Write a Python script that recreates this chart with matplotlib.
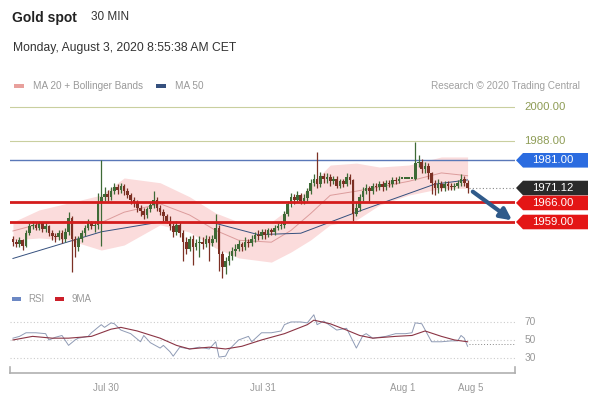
import matplotlib.pyplot as plt
import matplotlib.transforms as mtransforms
from matplotlib.patches import Polygon, Rectangle
import numpy as np

plt.rcParams['font.family'] = ['Liberation Sans', 'DejaVu Sans']

# 30 min candles, Jul 29 - Aug 3
first_open = 1953.0
closes = [1952.0, 1951.0, 1952.5, 1950.5, 1955.0, 1957.5, 1958.0, 1957.0, 1958.5, 1956.5,
          1957.5, 1955.0, 1954.0, 1953.5, 1955.0, 1953.0, 1955.5, 1960.5, 1953.0, 1950.0,
          1953.0, 1955.0, 1957.0, 1958.5, 1957.5, 1958.0, 1966.0, 1968.0, 1969.0, 1968.0,
          1970.0, 1971.5, 1970.5, 1972.0, 1970.0, 1968.5, 1967.0, 1966.0, 1964.0, 1963.0,
          1961.5, 1963.5, 1965.0, 1967.0, 1964.0, 1962.5, 1961.0, 1959.5, 1957.5, 1955.5,
          1958.0, 1955.0, 1952.0, 1949.5, 1953.0, 1950.0, 1951.5, 1952.0, 1951.0, 1953.0,
          1951.5, 1953.0, 1957.0, 1947.5, 1943.0, 1945.0, 1947.0, 1948.5, 1949.5, 1951.0,
          1950.0, 1952.0, 1951.5, 1953.0, 1954.5, 1954.0, 1955.5, 1954.5, 1956.0, 1955.5,
          1957.0, 1957.5, 1958.0, 1962.0, 1965.5, 1968.0, 1967.0, 1968.5, 1966.5, 1967.5,
          1970.0, 1973.0, 1974.5, 1972.5, 1975.5, 1974.5, 1975.0, 1973.5, 1974.5, 1972.0,
          1973.5, 1972.5, 1975.0, 1974.0, 1962.0, 1964.0, 1968.0, 1970.0, 1971.0, 1970.0,
          1972.0, 1971.5, 1972.5, 1971.5, 1973.0, 1972.5, 1974.0, 1973.5, 1974.5, 1974.5,
          1974.5, 1974.5, 1974.5, 1980.0, 1980.5, 1978.0, 1979.0, 1976.5, 1973.0, 1971.0,
          1972.5, 1971.0, 1972.5, 1972.0, 1971.5, 1972.0, 1973.0, 1974.5, 1973.0, 1971.12]
highs = [1954.0, 1953.0, 1953.5, 1953.0, 1956.0, 1958.5, 1959.5, 1959.0, 1959.5, 1959.0,
         1958.5, 1958.0, 1956.0, 1955.0, 1956.0, 1956.0, 1957.0, 1962.5, 1961.0, 1954.0,
         1954.0, 1956.0, 1958.0, 1960.0, 1959.5, 1959.5, 1969.5, 1981.0, 1971.5, 1970.5,
         1971.5, 1973.0, 1972.5, 1973.0, 1972.5, 1971.0, 1969.5, 1968.0, 1967.0, 1965.0,
         1964.0, 1964.5, 1966.0, 1970.0, 1968.0, 1965.0, 1963.5, 1962.0, 1961.0, 1958.5,
         1959.5, 1959.0, 1956.0, 1953.5, 1954.0, 1954.5, 1953.0, 1954.0, 1953.5, 1954.5,
         1954.0, 1954.5, 1962.0, 1958.0, 1948.5, 1946.5, 1948.5, 1950.0, 1951.0, 1952.5,
         1952.0, 1953.5, 1953.0, 1954.5, 1955.5, 1956.0, 1956.5, 1956.5, 1957.0, 1957.0,
         1958.0, 1958.5, 1959.5, 1963.0, 1966.5, 1969.5, 1969.0, 1970.0, 1969.5, 1969.0,
         1971.0, 1974.5, 1976.0, 1984.0, 1977.0, 1976.5, 1976.5, 1976.0, 1975.5, 1975.5,
         1974.5, 1974.5, 1976.5, 1976.0, 1974.5, 1966.0, 1969.0, 1971.5, 1972.5, 1972.0,
         1973.0, 1973.0, 1973.5, 1973.5, 1974.0, 1974.0, 1975.0, 1975.0, 1975.5, 1974.5,
         1974.5, 1974.5, 1974.5, 1987.5, 1983.0, 1981.5, 1980.5, 1980.0, 1977.0, 1974.0,
         1974.5, 1973.5, 1973.5, 1973.5, 1973.0, 1973.0, 1974.0, 1976.0, 1975.5, 1974.0]
lows = [1950.5, 1950.0, 1950.0, 1949.0, 1950.0, 1954.5, 1956.5, 1956.0, 1956.0, 1955.5,
        1955.5, 1954.0, 1952.5, 1952.0, 1952.5, 1951.5, 1952.0, 1954.5, 1941.0, 1946.5,
        1948.5, 1952.0, 1954.0, 1956.0, 1956.5, 1955.5, 1956.5, 1950.5, 1966.5, 1966.5,
        1967.0, 1969.0, 1969.0, 1969.5, 1968.5, 1967.5, 1965.5, 1964.5, 1962.5, 1961.0,
        1960.0, 1960.5, 1962.5, 1964.0, 1963.0, 1961.5, 1959.5, 1958.5, 1956.0, 1953.5,
        1954.5, 1953.5, 1945.0, 1947.5, 1948.5, 1943.5, 1949.0, 1946.5, 1949.5, 1950.0,
        1945.0, 1950.5, 1952.0, 1941.5, 1939.0, 1940.5, 1943.5, 1945.5, 1947.0, 1948.5,
        1948.5, 1949.0, 1950.0, 1950.5, 1952.0, 1952.5, 1953.0, 1953.0, 1953.5, 1954.5,
        1954.5, 1956.0, 1956.5, 1957.0, 1961.0, 1964.5, 1965.5, 1966.0, 1965.5, 1965.5,
        1966.5, 1969.0, 1972.0, 1971.0, 1971.5, 1973.0, 1973.0, 1972.0, 1972.5, 1971.0,
        1971.0, 1971.5, 1972.0, 1972.5, 1959.5, 1961.0, 1963.0, 1966.5, 1969.0, 1966.5,
        1969.0, 1970.0, 1970.5, 1970.0, 1970.5, 1971.5, 1971.5, 1972.5, 1973.0, 1974.5,
        1974.5, 1974.5, 1974.5, 1974.0, 1978.5, 1976.5, 1976.5, 1974.5, 1969.0, 1968.5,
        1969.5, 1970.0, 1970.0, 1970.5, 1970.5, 1970.5, 1971.0, 1972.0, 1972.0, 1969.5]

# indicator readings (candle index, value)
band_x = [0, 8, 17, 27, 34, 45, 54, 62, 69, 79, 85, 91, 97, 105, 112, 121, 131, 139]
band_upper = [1959.0, 1963.3, 1965.8, 1968.6, 1974.7, 1973.0, 1968.0, 1962.2, 1959.0, 1959.0,
              1964.3, 1972.2, 1979.3, 1980.0, 1978.6, 1979.3, 1982.2, 1982.2]
band_lower = [1952.6, 1953.3, 1952.6, 1949.0, 1950.8, 1958.0, 1955.4, 1949.7, 1946.2, 1944.7,
              1948.3, 1952.6, 1958.0, 1959.7, 1965.0, 1968.6, 1971.0, 1971.0]
ma20 = [1955.8, 1958.3, 1959.2, 1958.8, 1962.5, 1965.5, 1961.5, 1956.0, 1952.5, 1951.8,
        1956.0, 1962.0, 1968.5, 1970.0, 1971.5, 1973.5, 1976.5, 1975.5]
ma50_x = [0, 27, 45, 62, 75, 88, 105, 129, 139]
ma50 = [1946.0, 1955.5, 1959.0, 1958.5, 1954.5, 1955.0, 1962.5, 1972.5, 1974.0]

rsi_x = [0, 2, 4, 7, 10, 11, 13, 15, 17, 19, 20, 23, 24, 27, 28, 30, 31, 33, 36, 39, 40, 42,
         45, 46, 48, 49, 51, 54, 57, 60, 62, 63, 65, 66, 69, 72, 73, 76, 79, 82, 83, 85, 88,
         90, 92, 93, 95, 97, 99, 102, 105, 107, 108, 110, 114, 117, 120, 122, 123, 125, 128,
         131, 134, 136, 137, 138, 139]
rsi = [52, 54, 58, 58, 57, 50, 53, 55, 44, 50, 52, 54, 58, 67, 64, 69, 68, 61, 57, 48, 55, 47,
       41, 44, 37, 32, 42, 40, 42, 40, 48, 31, 32, 39, 50, 54, 48, 58, 58, 60, 67, 70, 70,
       69, 78, 67, 71, 66, 61, 63, 41, 55, 57, 52, 54, 57, 57, 58, 69, 68, 48,
       48, 49, 49, 55, 52, 43]
ma9_x = [0, 6, 12, 17, 24, 30, 33, 38, 45, 50, 54, 60, 65, 70, 76, 83, 90, 92, 97, 102,
         106, 110, 117, 122, 126, 131, 135, 139]
ma9 = [50, 54, 52, 52, 54, 62, 64, 60, 52, 44, 40, 42, 40, 43, 50, 57, 67, 72, 68, 61,
       55, 52, 54, 55, 60, 54, 50, 48]

level_lines = [2000.0, 1988.0]
resistance = 1981.0
supports = [1966.0, 1959.0]
last_price = 1971.12
target = 1959.0
date_pos = [28.4, 76.5, 119.3, 139.8]
date_labels = ['Jul 30', 'Jul 31', 'Aug 1', 'Aug 5']
rsi_levels = [70, 50, 30]
rsi_last = 45

W, H = 592, 400
fig = plt.figure(figsize=(W / 100, H / 100), dpi=100)
fig.patch.set_facecolor('white')

xmin, xmax = -0.9, 153.5
ax = fig.add_axes([10 / W, 1 - 285 / H, 505 / W, 190 / H])
ax.set_xlim(xmin, xmax)
ax.set_ylim(1936.54, 2004.28)
ax.axis('off')

# bollinger + moving averages
ax.fill_between(band_x, band_lower, band_upper, color='#fbdcdc', lw=0, zorder=1)
ax.plot(band_x, ma20, color='#dc9c9c', lw=0.7, zorder=2)
ax.plot(ma50_x, ma50, color='#35507e', lw=0.7, zorder=2)

# candles
opens = [first_open] + closes[:-1]
idx = np.arange(len(closes))
up_col, dn_col = '#3e6a36', '#7c3024'
cols = [up_col if c >= o else dn_col for o, c in zip(opens, closes)]
ax.vlines(idx, lows, highs, colors=cols, lw=0.9, zorder=4)
bottoms = [min(o, c) for o, c in zip(opens, closes)]
heights = [max(abs(c - o), 0.4) for o, c in zip(opens, closes)]
ax.bar(idx, heights, bottom=bottoms, width=0.8, color=cols, lw=0, zorder=5)

# levels
for lv in level_lines:
    ax.axhline(lv, color='#c9cf9f', lw=0.8, zorder=3)
ax.axhline(resistance, color='#5a78b8', lw=1.0, zorder=3)
for lv in supports:
    ax.axhline(lv, color='#d41c1c', lw=2.0, zorder=6)
ax.plot([idx[-1] + 0.5, xmax], [last_price, last_price], ls=(0, (1, 2)), color='#888888', lw=0.8, zorder=3)

ax.annotate('', xy=(152.6, target + 0.6), xytext=(140.6, last_price - 1.3),
            arrowprops=dict(arrowstyle='-|>', color='#2f5a8a', lw=3, mutation_scale=17,
                            shrinkA=0, shrinkB=0), zorder=7)

trans = mtransforms.blended_transform_factory(fig.transFigure, ax.transData)
hh = 2.6
for lv in level_lines:
    ax.text(545 / W, lv, f'{lv:.2f}', transform=trans, color='#8e9c55', fontsize=8.2,
            ha='center', va='center')
for lv, txt, col in [(resistance, f'{resistance:.2f}', '#2b6ce0'),
                     (last_price, f'{last_price:.2f}', '#2a2a2a'),
                     (supports[0] - 0.2, f'{supports[0]:.2f}', '#e41515'),
                     (supports[1], f'{supports[1]:.2f}', '#e41515')]:
    pts = [(516 / W, lv), (523 / W, lv + hh), (588 / W, lv + hh), (588 / W, lv - hh), (523 / W, lv - hh)]
    ax.add_patch(Polygon(pts, closed=True, transform=trans, facecolor=col, edgecolor='none',
                         clip_on=False, zorder=8))
    ax.text(553 / W, lv, txt, transform=trans, color='white', fontsize=8.2,
            ha='center', va='center', zorder=9)

# header texts
fig.text(12 / W, 1 - 18 / H, 'Gold spot', fontsize=10, fontweight='bold', color='#222222', va='center')
fig.text(91 / W, 1 - 17 / H, '30 MIN', fontsize=8.5, color='#333333', va='center')
fig.text(13 / W, 1 - 48 / H, 'Monday, August 3, 2020 8:55:38 AM CET', fontsize=8.7, color='#333333', va='center')

fig.patches.append(Rectangle((14 / W, 1 - 88 / H), 10 / W, 4 / H, transform=fig.transFigure,
                             facecolor='#e8a09c', edgecolor='none'))
fig.text(33 / W, 1 - 86 / H, 'MA 20 + Bollinger Bands', fontsize=7.2, color='#999999', va='center')
fig.patches.append(Rectangle((156 / W, 1 - 88 / H), 10 / W, 4 / H, transform=fig.transFigure,
                             facecolor='#35507e', edgecolor='none'))
fig.text(175 / W, 1 - 86 / H, 'MA 50', fontsize=7.2, color='#999999', va='center')
fig.text(580 / W, 1 - 86 / H, 'Research \u00a9 2020 Trading Central', fontsize=7.2, color='#a0a0a0',
         va='center', ha='right')

# RSI panel
rax = fig.add_axes([10 / W, 1 - 373 / H, 505 / W, 63 / H])
rax.set_xlim(xmin, xmax)
rax.set_ylim(13.3, 83.3)
for s in ['top', 'right', 'left']:
    rax.spines[s].set_visible(False)
rax.spines['bottom'].set_color('#b0b0b0')
rax.spines['bottom'].set_linewidth(1.2)
rax.plot([0, 0], [0, 0.09], transform=rax.transAxes, color='#b0b0b0', lw=1.2, clip_on=False)
rax.plot([1, 1], [0, 0.09], transform=rax.transAxes, color='#b0b0b0', lw=1.2, clip_on=False)
rax.set_yticks([])
rax.set_xticks(date_pos)
rax.set_xticklabels(date_labels, fontsize=7, color='#999999')
rax.tick_params(axis='x', length=0, pad=7)
rtrans = mtransforms.blended_transform_factory(fig.transFigure, rax.transData)
for lv in rsi_levels:
    rax.axhline(lv, color='#cccccc', lw=0.8, ls=(0, (1, 2)))
    rax.text(530 / W, lv, str(lv), transform=rtrans, fontsize=7.3, color='#999999', va='center', ha='center')
rax.plot(rsi_x, rsi, color='#8f9bb5', lw=0.7)
rax.plot(ma9_x, ma9, color='#8b3545', lw=0.8)
rax.plot([idx[-1] + 0.5, xmax], [rsi_last, rsi_last], ls=(0, (1, 2)), color='#888888', lw=0.7)

fig.patches.append(Rectangle((12 / W, 1 - 301 / H), 9 / W, 4 / H, transform=fig.transFigure,
                             facecolor='#6c88c4', edgecolor='none'))
fig.text(28 / W, 1 - 299 / H, 'RSI', fontsize=7, color='#999999', va='center')
fig.patches.append(Rectangle((55 / W, 1 - 301 / H), 9 / W, 4 / H, transform=fig.transFigure,
                             facecolor='#cc1f2a', edgecolor='none'))
fig.text(72 / W, 1 - 299 / H, '9MA', fontsize=7, color='#999999', va='center')

fig.savefig('out.png', dpi=100)
